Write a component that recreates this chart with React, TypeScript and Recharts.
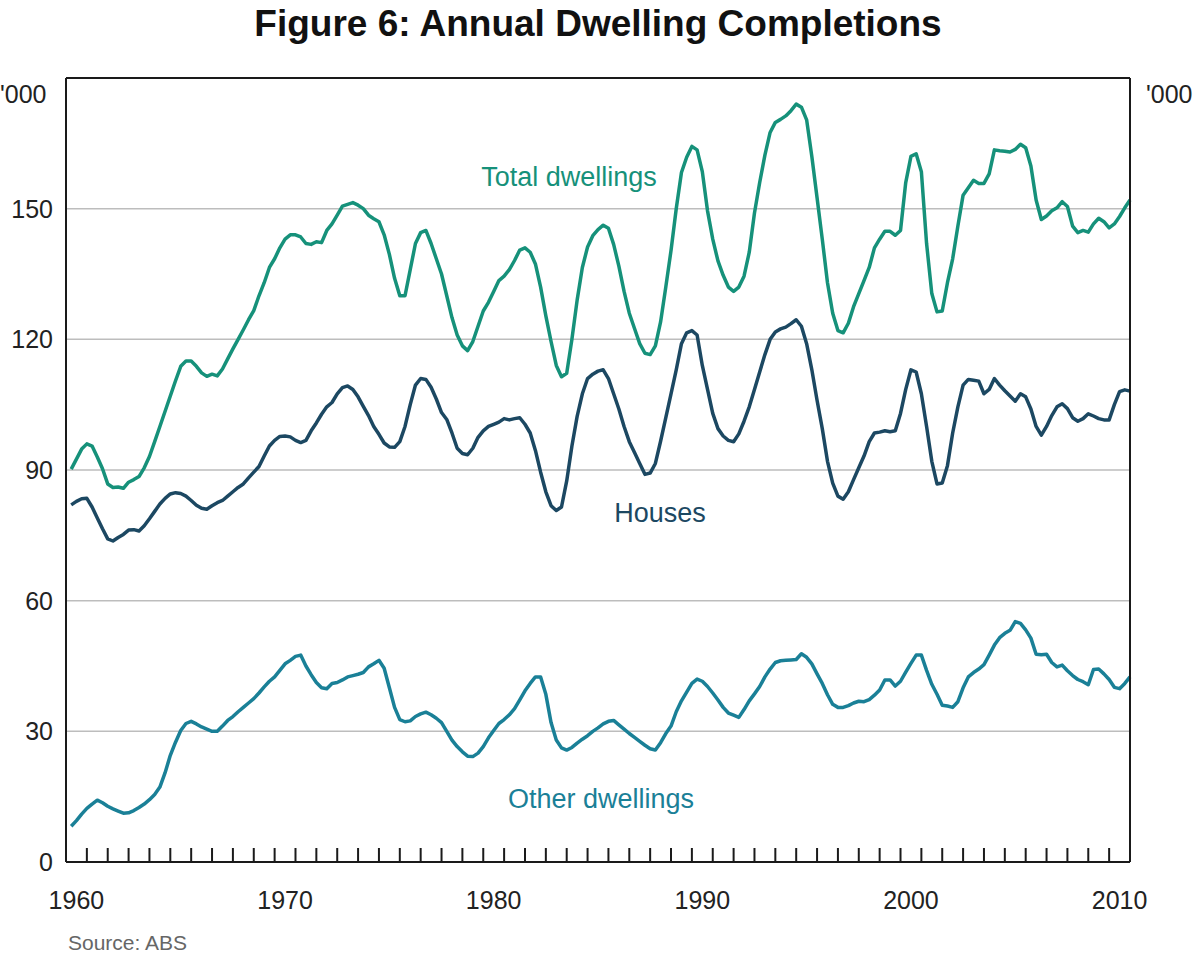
import { CartesianGrid, Line, LineChart, ReferenceLine, XAxis, YAxis } from "recharts";

// quarterly, '000 dwellings, annual rolling totals; first value is 1960 Q1
const startYear = 1960;

const totalDwellings = [
  90.2, 92.5, 94.8, 96.0, // 1960
  95.5, 93, 90.3, 86.8, // 1961
  86, 86.1, 85.8, 87.2, // 1962
  87.8, 88.5, 90.5, 93.1, // 1963
  96.5, 100, 103.5, 107, // 1964
  110.5, 113.8, 115, 115, // 1965
  113.8, 112.3, 111.5, 112, // 1966
  111.6, 113.2, 115.5, 117.8, // 1967
  120, 122.2, 124.5, 126.6, // 1968
  130, 133, 136.5, 138.5, // 1969
  141, 143, 144, 144, // 1970
  143.5, 142, 141.8, 142.4, // 1971
  142.2, 145, 146.5, 148.5, // 1972
  150.6, 151, 151.4, 150.8, // 1973
  150, 148.5, 147.7, 147, // 1974
  144, 139.5, 134, 130, // 1975
  130, 136, 142, 144.5, // 1976
  145, 142, 138.5, 135, // 1977
  130, 125, 121, 118.5, // 1978
  117.4, 119.5, 123, 126.5, // 1979
  128.5, 131, 133.5, 134.5, // 1980
  136, 138.1, 140.5, 141, // 1981
  140, 137.3, 132, 125.4, // 1982
  119.5, 114, 111.4, 112.2, // 1983
  120, 129, 136.5, 141.2, // 1984
  143.8, 145.2, 146.2, 145.5, // 1985
  141.8, 136.8, 131, 126, // 1986
  122.5, 119, 116.8, 116.5, // 1987
  118.5, 124, 132, 140.4, // 1988
  150, 158.3, 161.8, 164.3, // 1989
  163.5, 158.5, 149.5, 143, // 1990
  138, 134.7, 132, 131, // 1991
  132, 134.5, 140, 149, // 1992
  156, 162.3, 167.5, 169.8, // 1993
  170.5, 171.3, 172.5, 174, // 1994
  173.3, 170.4, 162, 152.5, // 1995
  143, 133, 126, 122, // 1996
  121.5, 123.7, 127.5, 130.5, // 1997
  133.5, 136.5, 141, 143, // 1998
  144.8, 144.8, 143.9, 145, // 1999
  156, 162, 162.6, 158.5, // 2000
  142, 130.5, 126.3, 126.5, // 2001
  133, 138.5, 146, 153.1, // 2002
  154.8, 156.5, 155.8, 155.8, // 2003
  158, 163.5, 163.3, 163.2, // 2004
  163, 163.6, 164.8, 164, // 2005
  159.8, 152, 147.5, 148.3, // 2006
  149.5, 150.2, 151.6, 150.5, // 2007
  146, 144.5, 145, 144.6, // 2008
  146.5, 147.8, 147, 145.6, // 2009
  146.5, 148.2, 150.2, 152, // 2010
];

const houses = [
  82, 82.8, 83.4, 83.5, // 1960
  81.5, 79, 76.5, 74.2, // 1961
  73.7, 74.5, 75.2, 76.2, // 1962
  76.3, 76, 77.2, 78.8, // 1963
  80.5, 82.2, 83.5, 84.5, // 1964
  84.8, 84.6, 84, 83, // 1965
  81.9, 81.2, 81, 81.8, // 1966
  82.5, 83, 84, 85, // 1967
  86, 86.8, 88.2, 89.5, // 1968
  90.8, 93.2, 95.5, 96.8, // 1969
  97.7, 97.8, 97.6, 96.8, // 1970
  96.3, 96.8, 99, 100.8, // 1971
  102.8, 104.5, 105.5, 107.5, // 1972
  108.9, 109.3, 108.5, 106.8, // 1973
  104.6, 102.5, 100, 98.2, // 1974
  96.2, 95.3, 95.2, 96.5, // 1975
  100, 105, 109.5, 111, // 1976
  110.8, 109, 106.3, 103.2, // 1977
  101.6, 98.5, 95, 93.8, // 1978
  93.5, 95, 97.5, 99, // 1979
  100, 100.5, 101, 101.8, // 1980
  101.5, 101.8, 102, 100.5, // 1981
  98.5, 94.5, 89.5, 85, // 1982
  81.8, 80.7, 81.5, 87.5, // 1983
  95.5, 102.3, 107.5, 111, // 1984
  112, 112.7, 113, 111, // 1985
  107.5, 104, 100, 96.5, // 1986
  94, 91.5, 89, 89.3, // 1987
  91.5, 96.6, 102, 107.5, // 1988
  113, 119, 121.5, 122, // 1989
  121, 114, 108.5, 103, // 1990
  99.5, 97.8, 96.8, 96.5, // 1991
  98.3, 101.2, 104.5, 108.5, // 1992
  112.5, 116.5, 120, 121.7, // 1993
  122.4, 122.8, 123.6, 124.5, // 1994
  123, 119, 113, 106, // 1995
  99.5, 92, 87, 84, // 1996
  83.3, 85, 87.8, 90.5, // 1997
  93.2, 96.5, 98.5, 98.7, // 1998
  99, 98.8, 99, 103, // 1999
  108.5, 113, 112.5, 107.5, // 2000
  100, 92, 86.8, 87, // 2001
  91, 98.5, 104.5, 109.5, // 2002
  110.8, 110.6, 110.4, 107.5, // 2003
  108.5, 111, 109.5, 108.2, // 2004
  107, 105.8, 107.5, 106.8, // 2005
  104, 100, 98, 100, // 2006
  102.5, 104.5, 105.2, 104.1, // 2007
  102, 101.2, 101.8, 102.9, // 2008
  102.4, 101.8, 101.5, 101.5, // 2009
  105, 108, 108.4, 108.1, // 2010
];

const otherDwellings = [
  8.2, 9.5, 11, 12.3, // 1960
  13.3, 14.2, 13.6, 12.8, // 1961
  12.2, 11.7, 11.2, 11.3, // 1962
  11.8, 12.5, 13.3, 14.3, // 1963
  15.5, 17.2, 20.5, 24.5, // 1964
  27.5, 30.2, 31.8, 32.3, // 1965
  31.7, 31, 30.5, 30, // 1966
  30, 31.2, 32.5, 33.4, // 1967
  34.5, 35.5, 36.5, 37.5, // 1968
  38.8, 40.2, 41.5, 42.5, // 1969
  44, 45.5, 46.3, 47.2, // 1970
  47.5, 45, 43, 41.2, // 1971
  40, 39.8, 41, 41.2, // 1972
  41.8, 42.5, 42.8, 43.1, // 1973
  43.5, 44.8, 45.5, 46.3, // 1974
  44.5, 40, 35.5, 32.7, // 1975
  32.2, 32.4, 33.4, 34, // 1976
  34.4, 33.8, 33, 32, // 1977
  30, 28, 26.5, 25.3, // 1978
  24.3, 24.2, 25, 26.5, // 1979
  28.5, 30.2, 31.8, 32.7, // 1980
  33.8, 35.2, 37.2, 39.3, // 1981
  41, 42.5, 42.5, 38.5, // 1982
  32, 28, 26.2, 25.7, // 1983
  26.3, 27.3, 28.2, 29, // 1984
  30, 30.8, 31.7, 32.3, // 1985
  32.5, 31.5, 30.5, 29.5, // 1986
  28.6, 27.7, 26.8, 26, // 1987
  25.7, 27.4, 29.5, 31.2, // 1988
  34.5, 37, 39, 41, // 1989
  42, 41.5, 40.3, 38.8, // 1990
  37.2, 35.5, 34.2, 33.7, // 1991
  33.2, 35, 37, 38.6, // 1992
  40.3, 42.5, 44.3, 45.8, // 1993
  46.2, 46.3, 46.4, 46.5, // 1994
  47.8, 47, 45.5, 43.2, // 1995
  41, 38.4, 36.2, 35.5, // 1996
  35.5, 35.9, 36.5, 36.9, // 1997
  36.8, 37.3, 38.3, 39.5, // 1998
  41.8, 41.8, 40.4, 41.5, // 1999
  43.6, 45.6, 47.5, 47.5, // 2000
  44, 40.8, 38.5, 36, // 2001
  35.8, 35.5, 36.8, 40, // 2002
  42.5, 43.5, 44.3, 45.3, // 2003
  47.5, 49.8, 51.5, 52.5, // 2004
  53.2, 55.2, 54.8, 53.3, // 2005
  51.4, 47.7, 47.6, 47.7, // 2006
  45.8, 44.8, 45.2, 43.9, // 2007
  42.8, 41.9, 41.4, 40.7, // 2008
  44.2, 44.3, 43.2, 41.9, // 2009
  40.1, 39.8, 41, 42.5, // 2010
];

const labelYears = [1960, 1970, 1980, 1990, 2000, 2010];
const yTicks = [0, 30, 60, 90, 120, 150, 180];

const data = totalDwellings.map((v, i) => ({
  t: startYear + (i + 1) / 4,
  total: v,
  houses: houses[i],
  other: otherDwellings[i],
}));

// year-boundary tick marks plus mid-year labels
const xTicks: number[] = [];
for (let y = startYear + 1; y <= 2010; y++) xTicks.push(y);
labelYears.forEach((y) => xTicks.push(y + 0.5));
xTicks.sort((a, b) => a - b);

const FONT = "'Liberation Sans', Arial, sans-serif";
const TOTAL_COLOR = "#16917a";
const HOUSES_COLOR = "#1c4862";
const OTHER_COLOR = "#1a8097";
const AXIS_COLOR = "#1a1a1a";

const renderXTick = (props: any) => {
  const { x, y, payload } = props;
  const v = payload.value as number;
  if (Number.isInteger(v)) {
    return <line x1={x} x2={x} y1={y} y2={y - 14} stroke={AXIS_COLOR} strokeWidth={2} />;
  }
  return (
    <text x={x} y={y + 47} textAnchor="middle" fontSize={25} fontFamily={FONT} fill="#222">
      {Math.floor(v)}
    </text>
  );
};

const yFmt = (v: number) => (v === 180 ? "" : String(v));

export default function App() {
  return (
    <div style={{ position: "absolute", left: 0, top: 0, width: 1200, height: 958, background: "#fff", overflow: "hidden" }}>
      <LineChart width={1200} height={958} data={data} margin={{ top: 78, right: 0, bottom: 0, left: 0 }}>
        <CartesianGrid vertical={false} stroke="#bdbdbd" strokeWidth={1.5} yAxisId="left" />
        <XAxis
          dataKey="t"
          type="number"
          domain={[1960, 2011]}
          ticks={xTicks}
          interval={0}
          height={96}
          tick={renderXTick}
          tickLine={false}
          tickSize={0}
          tickMargin={0}
          axisLine={{ stroke: AXIS_COLOR, strokeWidth: 2 }}
        />
        <YAxis
          yAxisId="left"
          domain={[0, 180]}
          ticks={yTicks}
          width={66}
          tickFormatter={yFmt}
          tickLine={false}
          tickSize={0}
          tickMargin={13}
          axisLine={{ stroke: AXIS_COLOR, strokeWidth: 2 }}
          tick={{ fontSize: 25, fontFamily: FONT, fill: "#222" }}
        />
        <YAxis
          yAxisId="right"
          orientation="right"
          domain={[0, 180]}
          ticks={yTicks}
          width={70}
          tickFormatter={yFmt}
          tickLine={false}
          tickSize={0}
          tickMargin={17}
          axisLine={{ stroke: AXIS_COLOR, strokeWidth: 2 }}
          tick={{ fontSize: 25, fontFamily: FONT, fill: "#222" }}
        />
        <ReferenceLine yAxisId="left" y={180} stroke={AXIS_COLOR} strokeWidth={2} />
        <Line yAxisId="left" type="linear" dataKey="total" stroke={TOTAL_COLOR} strokeWidth={3.5} dot={false} isAnimationActive={false} strokeLinejoin="round" />
        <Line yAxisId="left" type="linear" dataKey="houses" stroke={HOUSES_COLOR} strokeWidth={3.5} dot={false} isAnimationActive={false} strokeLinejoin="round" />
        <Line yAxisId="left" type="linear" dataKey="other" stroke={OTHER_COLOR} strokeWidth={3.5} dot={false} isAnimationActive={false} strokeLinejoin="round" />
      </LineChart>
      <svg width={1200} height={958} style={{ position: "absolute", left: 0, top: 0, pointerEvents: "none" }}>
        <text x={598} y={36} textAnchor="middle" fontSize={37} fontWeight="bold" fontFamily={FONT} fill="#111">
          Figure 6: Annual Dwelling Completions
        </text>
        <text x={0} y={103} fontSize={25} fontFamily={FONT} fill="#222">'000</text>
        <text x={1146} y={103} fontSize={25} fontFamily={FONT} fill="#222">'000</text>
        <text x={569} y={186} textAnchor="middle" fontSize={27} fontFamily={FONT} fill={TOTAL_COLOR}>Total dwellings</text>
        <text x={660} y={522} textAnchor="middle" fontSize={27} fontFamily={FONT} fill={HOUSES_COLOR}>Houses</text>
        <text x={601} y={808} textAnchor="middle" fontSize={27} fontFamily={FONT} fill={OTHER_COLOR}>Other dwellings</text>
        <text x={68} y={950} fontSize={21} fontFamily={FONT} fill="#666">Source: ABS</text>
      </svg>
    </div>
  );
}
